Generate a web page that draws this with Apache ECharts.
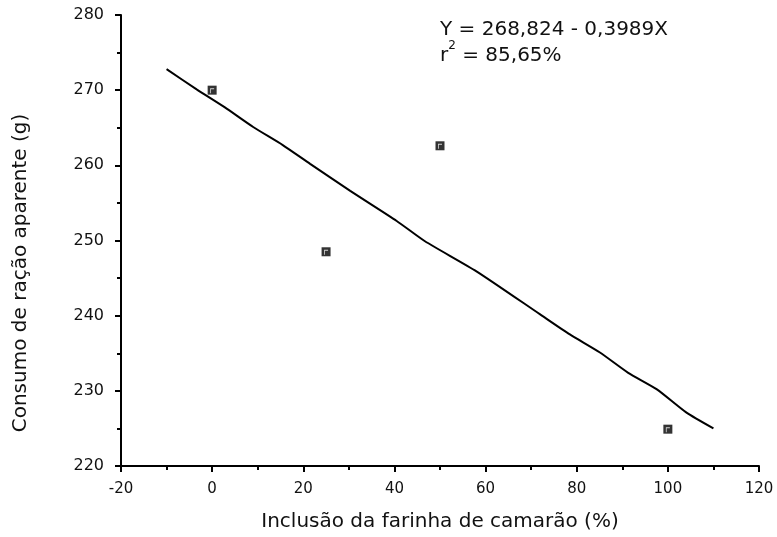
<!DOCTYPE html>
<html>
<head>
<meta charset="utf-8">
<script src="https://cdn.jsdelivr.net/npm/echarts@6/dist/echarts.min.js"></script>
<style>
  html, body { margin: 0; padding: 0; background: #fff; }
  #main { width: 777px; height: 537px; }
</style>
</head>
<body>
<div id="main"></div>
<script>
// observed points
var obsX = [0, 25, 50, 100];
var obsY = [270.0, 248.5, 262.6, 224.9];

// fitted line
var fitX = [-10, -3.4, 2.8, 9.0, 15.5, 21.5, 30.3, 40.5, 46.7, 58.0, 71.9, 78.5, 85.1, 91.3, 97.6, 104.1, 110];
var fitY = [272.8, 270.1, 267.7, 265.1, 262.7, 260.2, 256.6, 252.6, 249.9, 245.9, 240.2, 237.5, 235.1, 232.4, 230.2, 227.1, 225.0];

var xTicks = [-20, 0, 20, 40, 60, 80, 100, 120];
var yTicks = [220, 230, 240, 250, 260, 270, 280];

var chart = echarts.init(document.getElementById('main'));
var font = '"DejaVu Sans", "Liberation Sans", Arial, sans-serif';

var axisCommon = {
    axisLine: { show: true, onZero: false, lineStyle: { color: '#000', width: 2 } },
    axisTick: { show: true, inside: false, length: 6, lineStyle: { color: '#000', width: 2 } },
    minorTick: { show: true, splitNumber: 2, length: 4, lineStyle: { color: '#000', width: 2 } },
    splitLine: { show: false },
    minorSplitLine: { show: false },
    nameLocation: 'middle'
};

var points = obsX.map(function (x, i) { return [x, obsY[i]]; });

var option = {
    backgroundColor: '#ffffff',
    animation: false,
    grid: { left: 121, right: 18, top: 15, bottom: 70 },
    xAxis: Object.assign({}, axisCommon, {
        type: 'value',
        min: xTicks[0],
        max: xTicks[xTicks.length - 1],
        interval: 20,
        name: 'Inclusão da farinha de camarão (%)',
        nameGap: 46,
        nameTextStyle: { fontFamily: font, fontSize: 20, color: '#111' },
        axisLabel: { margin: 16, fontFamily: font, fontSize: 15, color: '#111' }
    }),
    yAxis: Object.assign({}, axisCommon, {
        type: 'value',
        min: yTicks[0],
        max: yTicks[yTicks.length - 1],
        interval: 10,
        axisLabel: { margin: 17, fontFamily: font, fontSize: 16, color: '#111' }
    }),
    graphic: [{
        type: 'text',
        x: 21,
        y: 273,
        rotation: Math.PI / 2,
        style: {
            text: 'Consumo de ração aparente (g)',
            font: '20px ' + font,
            fill: '#111',
            align: 'center',
            verticalAlign: 'middle'
        }
    }, {
        type: 'text',
        left: 440,
        top: 20,
        style: {
            text: 'Y = 268,824 - 0,3989X',
            font: '20px ' + font,
            fill: '#111'
        }
    }, {
        type: 'text',
        left: 440,
        top: 40,
        style: {
            text: '{b|r}{s|2}{b| = 85,65%}',
            rich: {
                b: { font: '20px ' + font, fill: '#111', verticalAlign: 'bottom', lineHeight: 26 },
                s: { font: '12px ' + font, fill: '#111', verticalAlign: 'top', lineHeight: 26 }
            }
        }
    }],
    series: [{
        type: 'line',
        data: fitX.map(function (x, i) { return [x, fitY[i]]; }),
        showSymbol: false,
        smooth: 0.2,
        lineStyle: { color: '#000', width: 2 },
        z: 2
    }, {
        type: 'scatter',
        data: points,
        symbol: 'rect',
        symbolSize: [9, 9],
        itemStyle: { color: '#000' },
        z: 3
    }, {
        // white inner corner of the marker
        type: 'scatter',
        data: points,
        symbol: 'path://M0,0H10V2H2V10H0Z',
        symbolSize: [4, 5],
        symbolOffset: [0, 0.5],
        itemStyle: { color: '#fff' },
        silent: true,
        z: 4
    }]
};

chart.setOption(option);
</script>
</body>
</html>
